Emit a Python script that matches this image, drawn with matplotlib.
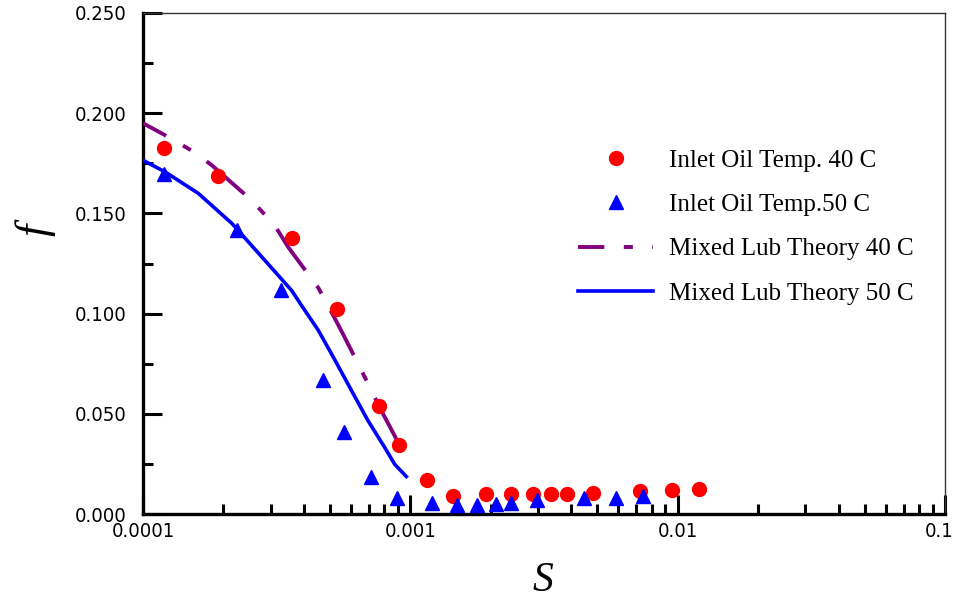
import numpy as np
import matplotlib
matplotlib.use("Agg")
import matplotlib.pyplot as plt
import matplotlib.transforms as mtransforms
from matplotlib.ticker import FixedLocator, NullFormatter, LogLocator

plt.rcParams['lines.scale_dashes'] = False

# Experimental data: Inlet oil temperature 40 C
s_40 = [1.20e-4, 1.90e-4, 3.60e-4, 5.30e-4, 7.66e-4, 9.10e-4, 1.15e-3, 1.44e-3,
        1.92e-3, 2.39e-3, 2.87e-3, 3.36e-3, 3.84e-3, 4.83e-3, 7.23e-3, 9.54e-3, 1.20e-2]
f_40 = [0.1825, 0.1685, 0.1375, 0.1025, 0.054, 0.0345, 0.017, 0.009,
        0.0102, 0.0102, 0.0102, 0.0102, 0.0102, 0.0107, 0.0115, 0.012, 0.0123]

# Experimental data: Inlet oil temperature 50 C
s_50 = [1.20e-4, 2.25e-4, 3.28e-4, 4.72e-4, 5.63e-4, 7.11e-4, 8.90e-4, 1.20e-3,
        1.49e-3, 1.78e-3, 2.09e-3, 2.38e-3, 2.97e-3, 4.47e-3, 5.87e-3, 7.44e-3]
f_50 = [0.1695, 0.1415, 0.112, 0.067, 0.0407, 0.0187, 0.0082, 0.0053,
        0.0045, 0.0045, 0.005, 0.0057, 0.0068, 0.0082, 0.0082, 0.009]

# Mixed lubrication theory 40 C
s_th40 = [1.0e-4, 1.21e-4, 1.55e-4, 1.81e-4, 2.55e-4, 3.11e-4, 3.50e-4, 4.52e-4,
          5.20e-4, 5.69e-4, 6.95e-4, 7.69e-4, 8.74e-4, 9.66e-4]
f_th40 = [0.195, 0.189, 0.1807, 0.174, 0.1565, 0.144, 0.133, 0.113,
          0.098, 0.088, 0.065, 0.053, 0.039, 0.0274]

# Mixed lubrication theory 50 C
s_th50 = [1.0e-4, 1.21e-4, 1.61e-4, 2.15e-4, 2.86e-4, 3.60e-4, 3.92e-4, 4.52e-4,
          5.20e-4, 6.03e-4, 6.95e-4, 8.02e-4, 8.74e-4, 9.66e-4]
f_th50 = [0.1765, 0.1707, 0.160, 0.145, 0.1265, 0.1115, 0.104, 0.0918,
          0.0773, 0.0615, 0.0465, 0.0332, 0.0248, 0.0187]

x_ticks = [1e-4, 1e-3, 1e-2, 1e-1]
x_labels = ['0.0001', '0.001', '0.01', '0.1']
y_ticks = [0.0, 0.05, 0.10, 0.15, 0.20, 0.25]
y_labels = ['0.000', '0.050', '0.100', '0.150', '0.200', '0.250']

labels = ['Inlet Oil Temp. 40 C', 'Inlet Oil Temp.50 C',
          'Mixed Lub Theory 40 C', 'Mixed Lub Theory 50 C']

fig = plt.figure(figsize=(9.56, 6.0), dpi=100)
ax = fig.add_axes([143/956, 1 - 514/600, (945-143)/956, (514-13)/600])

ax.set_xscale('log')
ax.set_xlim(1e-4, 1e-1)
ax.set_ylim(0, 0.25)

h1, = ax.plot(s_40, f_40, linestyle='none', marker='o', markersize=10,
              color='#FF0000', zorder=4)
h2, = ax.plot(s_50, f_50, linestyle='none', marker='^', markersize=10,
              color='#0000FF', zorder=4)
h3, = ax.plot(s_th40, f_th40, color='#800080', linewidth=2.8,
              linestyle=(17, (36, 14, 6.5, 14)), zorder=3)
h4, = ax.plot(s_th50, f_th50, color='#0000FF', linewidth=2.6, zorder=3)

serif = ['Liberation Serif', 'DejaVu Serif']
tick_kw = dict(fontfamily='DejaVu Sans', fontstretch='condensed',
               fontweight='light', fontsize=14.5)

ax.xaxis.set_major_locator(FixedLocator(x_ticks))
ax.set_xticklabels(x_labels, **tick_kw)
ax.xaxis.set_minor_locator(LogLocator(base=10, subs=np.arange(2, 10)))
ax.xaxis.set_minor_formatter(NullFormatter())

ax.yaxis.set_major_locator(FixedLocator(y_ticks))
ax.set_yticklabels(y_labels, **tick_kw)
ax.yaxis.set_minor_locator(FixedLocator([0.025, 0.075, 0.125, 0.175, 0.225]))

ax.tick_params(axis='x', which='major', direction='in', length=14, width=2.2, pad=6)
ax.tick_params(axis='x', which='minor', direction='in', length=7, width=2.2)
ax.tick_params(axis='y', which='major', direction='in', length=14, width=2.2, pad=12)
ax.tick_params(axis='y', which='minor', direction='in', length=7, width=2.2)

# keep the last x tick label inside the canvas
last = ax.get_xticklabels()[-1]
last.set_horizontalalignment('right')
last.set_transform(last.get_transform() +
                   mtransforms.ScaledTranslation(9/100, 0, fig.dpi_scale_trans))

ax.spines['left'].set_linewidth(2.4)
ax.spines['bottom'].set_linewidth(2.4)
for side in ('top', 'right'):
    ax.spines[side].set_linewidth(1.0)
    ax.spines[side].set_color('#333333')

fig.text(35/956, 1 - 230/600, 'f', fontfamily=serif, fontstyle='italic',
         fontsize=32, rotation=90, ha='center', va='center')
fig.text(543/956, 1 - 581/600, 'S', fontfamily=serif, fontstyle='italic',
         fontsize=30, ha='center', va='center')

leg = ax.legend([h1, h2, h3, h4], labels, loc='upper left',
                bbox_to_anchor=((578-143)/802, (514-149)/501),
                frameon=False, borderpad=0, borderaxespad=0,
                handlelength=3.0, handletextpad=0.65, labelspacing=0.88,
                prop={'family': serif, 'size': 18})

fig.savefig('out.png', dpi=100)
